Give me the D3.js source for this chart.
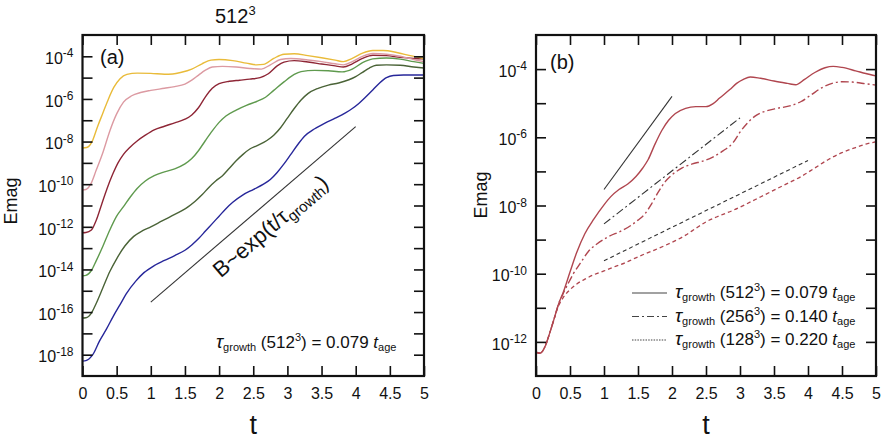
<!DOCTYPE html>
<html><head><meta charset="utf-8">
<script src="https://cdn.jsdelivr.net/npm/d3@7"></script>
<style>
body{margin:0;background:#fff}
text{font-family:"Liberation Sans",Arial,Helvetica,sans-serif;fill:#111}
</style>
</head><body>
<svg id="c" width="892" height="439"></svg>
<script>
// ---------- data (t, log10 Emag) ----------
const tTicks = [0,0.5,1,1.5,2,2.5,3,3.5,4,4.5,5];
const tTickLabels = ["0","0.5","1","1.5","2","2.5","3","3.5","4","4.5","5"];
const expTicksA = [-18,-17,-16,-15,-14,-13,-12,-11,-10,-9,-8,-7,-6,-5,-4];
const expTicksB = [-12,-11,-10,-9,-8,-7,-6,-5,-4];

// panel (a): 512^3 runs with different seed fields
const yellowA = [[0,-8.3],[0.06,-8.28],[0.14,-8.0],[0.22,-7.3],[0.3,-6.65],[0.38,-6.0],[0.46,-5.45],[0.55,-5.05],[0.65,-4.85],[0.8,-4.79],[1.0,-4.8],[1.2,-4.84],[1.32,-4.83],[1.45,-4.75],[1.6,-4.6],[1.75,-4.35],[1.88,-4.18],[2.0,-4.15],[2.2,-4.2],[2.4,-4.32],[2.55,-4.4],[2.65,-4.38],[2.8,-4.1],[2.95,-3.9],[3.1,-3.88],[3.3,-3.97],[3.5,-4.07],[3.7,-4.18],[3.82,-4.25],[3.95,-4.1],[4.1,-3.85],[4.25,-3.73],[4.4,-3.73],[4.6,-3.82],[4.8,-3.97],[5.0,-4.1]];
const pinkA = [[0,-10.27],[0.05,-10.25],[0.12,-10.0],[0.2,-9.35],[0.3,-8.5],[0.4,-7.5],[0.5,-6.7],[0.6,-6.15],[0.72,-5.85],[0.85,-5.7],[1.0,-5.6],[1.2,-5.5],[1.35,-5.42],[1.5,-5.3],[1.6,-5.12],[1.7,-4.88],[1.8,-4.65],[1.9,-4.5],[2.05,-4.47],[2.25,-4.5],[2.45,-4.57],[2.62,-4.6],[2.75,-4.4],[2.9,-4.15],[3.05,-4.1],[3.3,-4.17],[3.5,-4.25],[3.7,-4.35],[3.82,-4.4],[3.95,-4.25],[4.1,-4.0],[4.25,-3.87],[4.45,-3.9],[4.65,-4.0],[4.85,-4.15],[5.0,-4.25]];
const redA = [[0,-12.28],[0.05,-12.27],[0.13,-12.15],[0.2,-11.7],[0.28,-10.95],[0.36,-10.2],[0.44,-9.55],[0.52,-9.0],[0.6,-8.6],[0.7,-8.25],[0.8,-7.97],[0.92,-7.7],[1.05,-7.45],[1.2,-7.28],[1.35,-7.12],[1.5,-6.95],[1.6,-6.75],[1.7,-6.4],[1.8,-5.9],[1.9,-5.5],[2.0,-5.28],[2.15,-5.17],[2.3,-5.12],[2.45,-5.07],[2.6,-5.0],[2.72,-4.82],[2.85,-4.45],[2.95,-4.27],[3.1,-4.2],[3.3,-4.27],[3.5,-4.36],[3.7,-4.45],[3.82,-4.5],[3.95,-4.35],[4.1,-4.1],[4.25,-3.95],[4.45,-3.97],[4.65,-4.05],[4.85,-4.1],[5.0,-4.12]];
const greenA = [[0,-14.3],[0.05,-14.28],[0.13,-14.05],[0.2,-13.6],[0.3,-12.9],[0.4,-12.15],[0.5,-11.5],[0.6,-11.05],[0.7,-10.6],[0.8,-10.2],[0.92,-9.85],[1.05,-9.6],[1.2,-9.42],[1.35,-9.28],[1.5,-9.05],[1.6,-8.8],[1.7,-8.42],[1.8,-7.95],[1.9,-7.5],[2.0,-7.1],[2.1,-6.8],[2.25,-6.52],[2.4,-6.3],[2.55,-6.12],[2.68,-5.92],[2.8,-5.6],[2.95,-5.2],[3.1,-4.85],[3.2,-4.72],[3.4,-4.66],[3.6,-4.68],[3.8,-4.73],[3.95,-4.6],[4.1,-4.3],[4.25,-4.12],[4.45,-4.08],[4.65,-4.13],[4.85,-4.25],[5.0,-4.33]];
const darkGreenA = [[0,-16.28],[0.05,-16.27],[0.13,-16.05],[0.2,-15.6],[0.3,-14.85],[0.4,-14.1],[0.5,-13.5],[0.62,-12.9],[0.75,-12.45],[0.88,-12.18],[1.0,-12.0],[1.15,-11.75],[1.3,-11.5],[1.45,-11.25],[1.55,-11.05],[1.65,-10.8],[1.75,-10.5],[1.85,-10.15],[1.95,-9.85],[2.05,-9.6],[2.15,-9.25],[2.25,-8.9],[2.35,-8.6],[2.45,-8.35],[2.55,-8.2],[2.7,-7.95],[2.8,-7.7],[2.9,-7.35],[3.0,-6.9],[3.1,-6.45],[3.2,-6.05],[3.3,-5.75],[3.45,-5.5],[3.6,-5.35],[3.75,-5.25],[3.9,-5.1],[4.0,-4.95],[4.1,-4.75],[4.2,-4.55],[4.3,-4.42],[4.45,-4.4],[4.65,-4.42],[4.85,-4.5],[5.0,-4.55]];
const blueA = [[0,-18.3],[0.05,-18.28],[0.15,-18.0],[0.25,-17.35],[0.35,-16.8],[0.45,-16.2],[0.55,-15.65],[0.65,-15.1],[0.78,-14.55],[0.9,-14.15],[1.05,-13.82],[1.2,-13.58],[1.35,-13.35],[1.5,-13.1],[1.6,-12.85],[1.7,-12.55],[1.8,-12.2],[1.9,-11.85],[2.0,-11.5],[2.1,-11.15],[2.2,-10.85],[2.35,-10.5],[2.5,-10.25],[2.65,-10.0],[2.75,-9.78],[2.85,-9.45],[2.95,-9.05],[3.05,-8.6],[3.15,-8.15],[3.25,-7.75],[3.4,-7.4],[3.55,-7.13],[3.7,-6.9],[3.85,-6.65],[3.95,-6.45],[4.05,-6.2],[4.15,-5.9],[4.25,-5.58],[4.35,-5.25],[4.45,-5.0],[4.55,-4.9],[4.7,-4.88],[5.0,-4.88]];
const refLineA = [[1.0,-15.53],[4.0,-7.3]];

// panel (b): resolution study
const res512 = [[0,-12.3],[0.06,-12.33],[0.13,-12.15],[0.2,-11.75],[0.27,-11.3],[0.33,-10.9],[0.4,-10.55],[0.5,-9.95],[0.6,-9.37],[0.72,-8.82],[0.85,-8.4],[1.0,-7.98],[1.1,-7.74],[1.22,-7.53],[1.35,-7.37],[1.47,-7.15],[1.57,-6.9],[1.65,-6.65],[1.75,-6.2],[1.85,-5.8],[1.95,-5.5],[2.05,-5.3],[2.2,-5.15],[2.35,-5.1],[2.5,-5.1],[2.6,-5.02],[2.7,-4.85],[2.85,-4.6],[2.95,-4.42],[3.05,-4.3],[3.15,-4.23],[3.3,-4.27],[3.5,-4.35],[3.7,-4.42],[3.82,-4.46],[3.95,-4.3],[4.1,-4.1],[4.25,-3.96],[4.37,-3.92],[4.5,-3.95],[4.7,-4.05],[4.85,-4.13],[5.0,-4.2]];
const res256 = [[0,-12.3],[0.06,-12.33],[0.13,-12.15],[0.2,-11.75],[0.27,-11.3],[0.33,-10.9],[0.4,-10.58],[0.47,-10.3],[0.55,-10.0],[0.65,-9.7],[0.77,-9.35],[0.9,-9.12],[1.05,-8.93],[1.26,-8.74],[1.4,-8.58],[1.5,-8.43],[1.6,-8.25],[1.7,-7.95],[1.8,-7.6],[1.9,-7.3],[2.0,-7.1],[2.15,-6.9],[2.3,-6.78],[2.45,-6.7],[2.6,-6.58],[2.75,-6.4],[2.9,-6.15],[3.0,-5.85],[3.1,-5.6],[3.25,-5.34],[3.4,-5.22],[3.55,-5.15],[3.75,-5.07],[3.9,-4.95],[4.05,-4.75],[4.2,-4.55],[4.37,-4.41],[4.5,-4.37],[4.65,-4.38],[4.85,-4.43],[5.0,-4.47]];
const res128 = [[0,-12.3],[0.06,-12.33],[0.13,-12.15],[0.2,-11.75],[0.27,-11.3],[0.33,-10.95],[0.4,-10.7],[0.5,-10.47],[0.6,-10.3],[0.72,-10.16],[0.85,-10.03],[1.0,-9.92],[1.15,-9.8],[1.3,-9.69],[1.45,-9.55],[1.6,-9.42],[1.75,-9.3],[1.9,-9.17],[2.05,-9.03],[2.2,-8.87],[2.35,-8.67],[2.5,-8.48],[2.7,-8.3],[2.9,-8.14],[3.1,-7.95],[3.3,-7.75],[3.5,-7.55],[3.7,-7.35],[3.9,-7.15],[4.1,-6.9],[4.3,-6.65],[4.5,-6.45],[4.7,-6.3],[4.85,-6.2],[5.0,-6.13]];
const ref512 = [[1.0,-7.53],[2.0,-4.8]];
const ref256 = [[1.0,-8.54],[3.0,-5.43]];
const ref128 = [[1.0,-9.62],[4.0,-6.68]];

const legendRes = ["512","256","128"];
const legendTau = ["0.079","0.140","0.220"];

// ---------- drawing ----------
const svg = d3.select("#c");
const FONT = '"Liberation Sans",Arial,Helvetica,sans-serif';

function makePanel(id, x0, x1, y0, y1, expMin, expMax, expTicks) {
  const x = d3.scaleLinear().domain([0,5]).range([x0,x1]);
  const y = d3.scaleLog().domain([10**expMin, 10**expMax]).range([y1,y0]);
  const g = svg.append("g");
  g.append("clipPath").attr("id", "clip"+id).append("rect")
    .attr("x", x0).attr("y", y0).attr("width", x1-x0).attr("height", y1-y0);
  const plot = g.append("g").attr("clip-path", `url(#clip${id})`);

  const yTickVals = expTicks.map(e => 10**e);
  const styleAxis = sel => {
    sel.select(".domain").remove();
    sel.selectAll(".tick line").attr("stroke","#111").attr("stroke-width",1.6);
  };
  const left = g.append("g").attr("transform",`translate(${x0},0)`)
    .call(d3.axisLeft(y).tickValues(yTickVals).tickSize(-10).tickPadding(9).tickFormat(()=>""));
  styleAxis(left);
  left.selectAll(".tick text").each(function(d){
    const e = Math.round(Math.log10(d));
    const t = d3.select(this);
    if (e % 2 !== 0) { t.remove(); return; }
    t.attr("dy","0.45em").attr("font-size",16).attr("font-family",FONT).attr("fill","#111");
    t.append("tspan").text("10");
    t.append("tspan").text(String(e)).attr("font-size",12).attr("dy","-0.55em");
  });
  const right = g.append("g").attr("transform",`translate(${x1},0)`)
    .call(d3.axisRight(y).tickValues(yTickVals).tickSize(-10).tickFormat(()=>""));
  styleAxis(right);
  const bottom = g.append("g").attr("transform",`translate(0,${y1})`)
    .call(d3.axisBottom(x).tickValues(tTicks).tickSize(-10).tickPadding(12)
      .tickFormat((d,i)=>tTickLabels[i]));
  styleAxis(bottom);
  bottom.selectAll(".tick text").attr("font-size",16).attr("font-family",FONT).attr("fill","#111");
  const top = g.append("g").attr("transform",`translate(0,${y0})`)
    .call(d3.axisTop(x).tickValues(tTicks).tickSize(-10).tickFormat(()=>""));
  styleAxis(top);
  g.append("rect").attr("x",x0).attr("y",y0).attr("width",x1-x0).attr("height",y1-y0)
    .attr("fill","none").attr("stroke","#111").attr("stroke-width",2.2);

  const line = d3.line().x(d=>x(d[0])).y(d=>y(10**d[1])).curve(d3.curveMonotoneX);
  return {x, y, g, plot, line};
}

// ---- panel (a)
const A = makePanel("a", 82.5, 424, 35, 376, -19, -3, expTicksA);
const seriesA = [
  {d: yellowA, c: "#e9bb3a"},
  {d: pinkA, c: "#dc9aa2"},
  {d: redA, c: "#8e2636"},
  {d: greenA, c: "#5f9a4e"},
  {d: darkGreenA, c: "#4a6337"},
  {d: blueA, c: "#27279a"}
];
seriesA.slice().reverse().forEach(s => {
  A.plot.append("path").datum(s.d).attr("d", A.line)
    .attr("fill","none").attr("stroke", s.c).attr("stroke-width",1.4);
});
A.plot.append("path").datum(refLineA).attr("d", d3.line().x(d=>A.x(d[0])).y(d=>A.y(10**d[1])))
  .attr("fill","none").attr("stroke","#333").attr("stroke-width",1.1);

{
  const p0 = [A.x(refLineA[0][0]), A.y(10**refLineA[0][1])];
  const p1 = [A.x(refLineA[1][0]), A.y(10**refLineA[1][1])];
  const dx = p1[0]-p0[0], dy = p1[1]-p0[1];
  const len = Math.hypot(dx,dy);
  const ux = dx/len, uy = dy/len;
  const nx = -uy, ny = ux;
  const f = 0.52, off = 20;
  const cx = p0[0] + ux*len*f + nx*off;
  const cy = p0[1] + uy*len*f + ny*off;
  const ang = Math.atan2(dy,dx)*180/Math.PI;
  const t = svg.append("text").attr("transform",`translate(${cx},${cy}) rotate(${ang})`)
    .attr("text-anchor","middle").attr("dy","0.35em").attr("font-size",22);
  t.append("tspan").text("B~exp(t/τ");
  t.append("tspan").text("growth").attr("font-size",15).attr("dy",4);
  t.append("tspan").text(")").attr("dy",-4);
}

function tauText(parent, x, y, res, val) {
  const t = parent.append("text").attr("x",x).attr("y",y).attr("font-size",17);
  t.append("tspan").text("τ").attr("font-size",19).attr("font-style","italic");
  t.append("tspan").text("growth").attr("font-size",11).attr("dy",3);
  t.append("tspan").text(" ("+res).attr("dy",-3);
  t.append("tspan").text("3").attr("font-size",11).attr("dy",-7);
  t.append("tspan").text(")").attr("dy",7);
  t.append("tspan").text(" = "+val+" ");
  t.append("tspan").text("t").attr("font-style","italic");
  t.append("tspan").text("age").attr("font-size",11).attr("dy",3);
  return t;
}
tauText(svg, 216, 348, "512", "0.079");

svg.append("text").attr("x",100).attr("y",64).attr("font-size",20).text("(a)");
{
  const t = svg.append("text").attr("x",215).attr("y",23).attr("font-size",20);
  t.append("tspan").text("512");
  t.append("tspan").text("3").attr("font-size",13).attr("dy",-8);
}
svg.append("text").attr("transform","translate(17,201) rotate(-90)")
  .attr("text-anchor","middle").attr("font-size",18).text("Emag");
svg.append("text").attr("x",A.x(2.5)).attr("y",434).attr("text-anchor","middle")
  .attr("font-size",27).text("t");

// ---- panel (b)
const B = makePanel("b", 536, 876, 35, 376, -13, -3, expTicksB);
const redB = "#b0464f";
B.plot.append("path").datum(res128).attr("d", B.line).attr("fill","none")
  .attr("stroke",redB).attr("stroke-width",1.3).attr("stroke-dasharray","4,3");
B.plot.append("path").datum(res256).attr("d", B.line).attr("fill","none")
  .attr("stroke",redB).attr("stroke-width",1.4).attr("stroke-dasharray","8,3,2,3");
B.plot.append("path").datum(res512).attr("d", B.line).attr("fill","none")
  .attr("stroke",redB).attr("stroke-width",1.4);
const straight = d3.line().x(d=>B.x(d[0])).y(d=>B.y(10**d[1]));
B.plot.append("path").datum(ref512).attr("d", straight).attr("fill","none")
  .attr("stroke","#333").attr("stroke-width",1.1);
B.plot.append("path").datum(ref256).attr("d", straight).attr("fill","none")
  .attr("stroke","#333").attr("stroke-width",1.1).attr("stroke-dasharray","8,3,2,3");
B.plot.append("path").datum(ref128).attr("d", straight).attr("fill","none")
  .attr("stroke","#333").attr("stroke-width",1.1).attr("stroke-dasharray","4,3");

const legDash = [null, "7,3,2,3", "1.5,1.2"];
legendRes.forEach((r,i) => {
  const by = 298 + i*23.5;
  svg.append("line").attr("x1",632).attr("x2",667).attr("y1",by-5).attr("y2",by-5)
    .attr("stroke","#444").attr("stroke-width",1.1).attr("stroke-dasharray",legDash[i]);
  tauText(svg, 675, by, r, legendTau[i]);
});

svg.append("text").attr("x",550).attr("y",69).attr("font-size",20).text("(b)");
svg.append("text").attr("transform","translate(487,195) rotate(-90)")
  .attr("text-anchor","middle").attr("font-size",18).text("Emag");
svg.append("text").attr("x",B.x(2.5)).attr("y",434).attr("text-anchor","middle")
  .attr("font-size",27).text("t");
</script>
</body></html>
